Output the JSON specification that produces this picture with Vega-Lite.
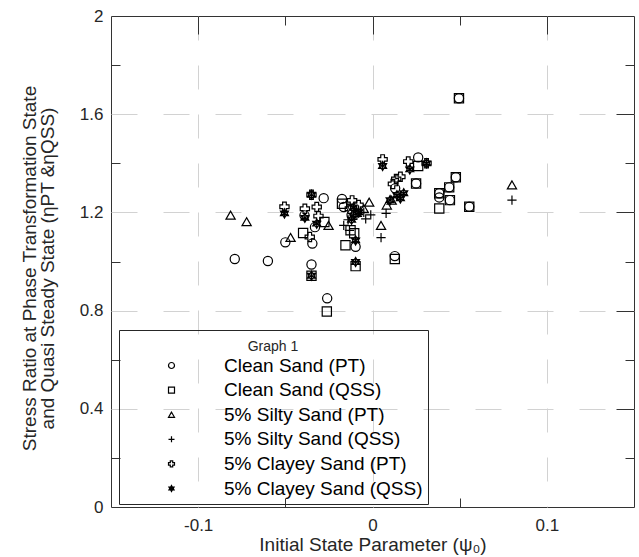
{
  "$schema": "https://vega.github.io/schema/vega-lite/v6.json",
  "width": 523,
  "height": 491,
  "autosize": {"type": "none"},
  "padding": {"left": 111, "top": 16, "right": 5, "bottom": 50},
  "background": "white",
  "config": {
    "font": "Liberation Sans",
    "view": {"stroke": "#333333", "strokeWidth": 1},
    "axis": {"labelFont": "Liberation Sans", "titleFont": "Liberation Sans", "labelColor": "#262626", "titleColor": "#262626", "titleFontWeight": "normal"}
  },
  "data": {
    "values": [
      {"psi": -0.079, "eta": 1.010, "s": "Clean Sand (PT)"},
      {"psi": -0.060, "eta": 1.002, "s": "Clean Sand (PT)"},
      {"psi": -0.050, "eta": 1.078, "s": "Clean Sand (PT)"},
      {"psi": -0.028, "eta": 1.258, "s": "Clean Sand (PT)"},
      {"psi": -0.039, "eta": 1.188, "s": "Clean Sand (PT)"},
      {"psi": -0.033, "eta": 1.140, "s": "Clean Sand (PT)"},
      {"psi": -0.0345, "eta": 1.073, "s": "Clean Sand (PT)"},
      {"psi": -0.035, "eta": 0.988, "s": "Clean Sand (PT)"},
      {"psi": -0.026, "eta": 0.850, "s": "Clean Sand (PT)"},
      {"psi": -0.0175, "eta": 1.255, "s": "Clean Sand (PT)"},
      {"psi": -0.0165, "eta": 1.222, "s": "Clean Sand (PT)"},
      {"psi": -0.012, "eta": 1.190, "s": "Clean Sand (PT)"},
      {"psi": -0.0097, "eta": 1.060, "s": "Clean Sand (PT)"},
      {"psi": 0.0128, "eta": 1.022, "s": "Clean Sand (PT)"},
      {"psi": 0.013, "eta": 1.298, "s": "Clean Sand (PT)"},
      {"psi": 0.0262, "eta": 1.424, "s": "Clean Sand (PT)"},
      {"psi": 0.0250, "eta": 1.318, "s": "Clean Sand (PT)"},
      {"psi": 0.0383, "eta": 1.278, "s": "Clean Sand (PT)"},
      {"psi": 0.0383, "eta": 1.261, "s": "Clean Sand (PT)"},
      {"psi": 0.0440, "eta": 1.302, "s": "Clean Sand (PT)"},
      {"psi": 0.0478, "eta": 1.343, "s": "Clean Sand (PT)"},
      {"psi": 0.0444, "eta": 1.250, "s": "Clean Sand (PT)"},
      {"psi": 0.0555, "eta": 1.223, "s": "Clean Sand (PT)"},
      {"psi": 0.0496, "eta": 1.665, "s": "Clean Sand (PT)"},

      {"psi": -0.0398, "eta": 1.116, "s": "Clean Sand (QSS)"},
      {"psi": -0.0276, "eta": 1.161, "s": "Clean Sand (QSS)"},
      {"psi": -0.035, "eta": 0.942, "s": "Clean Sand (QSS)"},
      {"psi": -0.0262, "eta": 0.796, "s": "Clean Sand (QSS)"},
      {"psi": -0.0175, "eta": 1.235, "s": "Clean Sand (QSS)"},
      {"psi": -0.0126, "eta": 1.127, "s": "Clean Sand (QSS)"},
      {"psi": -0.0105, "eta": 1.115, "s": "Clean Sand (QSS)"},
      {"psi": -0.0155, "eta": 1.066, "s": "Clean Sand (QSS)"},
      {"psi": -0.0097, "eta": 0.981, "s": "Clean Sand (QSS)"},
      {"psi": 0.0128, "eta": 1.010, "s": "Clean Sand (QSS)"},
      {"psi": 0.0250, "eta": 1.318, "s": "Clean Sand (QSS)"},
      {"psi": 0.0262, "eta": 1.389, "s": "Clean Sand (QSS)"},
      {"psi": 0.0383, "eta": 1.278, "s": "Clean Sand (QSS)"},
      {"psi": 0.0383, "eta": 1.216, "s": "Clean Sand (QSS)"},
      {"psi": 0.0440, "eta": 1.302, "s": "Clean Sand (QSS)"},
      {"psi": 0.0478, "eta": 1.343, "s": "Clean Sand (QSS)"},
      {"psi": 0.0444, "eta": 1.250, "s": "Clean Sand (QSS)"},
      {"psi": 0.0555, "eta": 1.223, "s": "Clean Sand (QSS)"},
      {"psi": 0.0496, "eta": 1.665, "s": "Clean Sand (QSS)"},

      {"psi": -0.0814, "eta": 1.189, "s": "5% Silty Sand (PT)"},
      {"psi": -0.0722, "eta": 1.162, "s": "5% Silty Sand (PT)"},
      {"psi": -0.047, "eta": 1.098, "s": "5% Silty Sand (PT)"},
      {"psi": -0.0252, "eta": 1.147, "s": "5% Silty Sand (PT)"},
      {"psi": -0.0019, "eta": 1.242, "s": "5% Silty Sand (PT)"},
      {"psi": 0.0049, "eta": 1.147, "s": "5% Silty Sand (PT)"},
      {"psi": 0.0082, "eta": 1.230, "s": "5% Silty Sand (PT)"},
      {"psi": 0.011, "eta": 1.250, "s": "5% Silty Sand (PT)"},
      {"psi": 0.080, "eta": 1.312, "s": "5% Silty Sand (PT)"},
      {"psi": -0.009, "eta": 1.200, "s": "5% Silty Sand (PT)"},
      {"psi": -0.005, "eta": 1.215, "s": "5% Silty Sand (PT)"},

      {"psi": -0.0165, "eta": 1.147, "s": "5% Silty Sand (QSS)"},
      {"psi": -0.0132, "eta": 1.127, "s": "5% Silty Sand (QSS)"},
      {"psi": -0.0039, "eta": 1.174, "s": "5% Silty Sand (QSS)"},
      {"psi": 0.0049, "eta": 1.097, "s": "5% Silty Sand (QSS)"},
      {"psi": 0.0078, "eta": 1.196, "s": "5% Silty Sand (QSS)"},
      {"psi": 0.080, "eta": 1.250, "s": "5% Silty Sand (QSS)"},
      {"psi": -0.011, "eta": 1.190, "s": "5% Silty Sand (QSS)"},
      {"psi": -0.008, "eta": 1.210, "s": "5% Silty Sand (QSS)"},
      {"psi": -0.005, "eta": 1.200, "s": "5% Silty Sand (QSS)"},
      {"psi": -0.001, "eta": 1.190, "s": "5% Silty Sand (QSS)"},
      {"psi": -0.014, "eta": 1.170, "s": "5% Silty Sand (QSS)"},

      {"psi": -0.0505, "eta": 1.223, "s": "5% Clayey Sand (PT)"},
      {"psi": -0.0388, "eta": 1.215, "s": "5% Clayey Sand (PT)"},
      {"psi": -0.032, "eta": 1.222, "s": "5% Clayey Sand (PT)"},
      {"psi": -0.035, "eta": 1.272, "s": "5% Clayey Sand (PT)"},
      {"psi": -0.036, "eta": 1.100, "s": "5% Clayey Sand (PT)"},
      {"psi": -0.031, "eta": 1.185, "s": "5% Clayey Sand (PT)"},
      {"psi": -0.0117, "eta": 1.249, "s": "5% Clayey Sand (PT)"},
      {"psi": -0.013, "eta": 1.215, "s": "5% Clayey Sand (PT)"},
      {"psi": -0.008, "eta": 1.230, "s": "5% Clayey Sand (PT)"},
      {"psi": -0.010, "eta": 1.190, "s": "5% Clayey Sand (PT)"},
      {"psi": 0.0058, "eta": 1.416, "s": "5% Clayey Sand (PT)"},
      {"psi": 0.0117, "eta": 1.316, "s": "5% Clayey Sand (PT)"},
      {"psi": 0.0136, "eta": 1.336, "s": "5% Clayey Sand (PT)"},
      {"psi": 0.016, "eta": 1.345, "s": "5% Clayey Sand (PT)"},
      {"psi": 0.0205, "eta": 1.407, "s": "5% Clayey Sand (PT)"},
      {"psi": 0.0310, "eta": 1.400, "s": "5% Clayey Sand (PT)"},

      {"psi": -0.0505, "eta": 1.196, "s": "5% Clayey Sand (QSS)"},
      {"psi": -0.035, "eta": 1.272, "s": "5% Clayey Sand (QSS)"},
      {"psi": -0.0388, "eta": 1.178, "s": "5% Clayey Sand (QSS)"},
      {"psi": -0.032, "eta": 1.154, "s": "5% Clayey Sand (QSS)"},
      {"psi": -0.035, "eta": 0.942, "s": "5% Clayey Sand (QSS)"},
      {"psi": -0.0097, "eta": 1.086, "s": "5% Clayey Sand (QSS)"},
      {"psi": -0.0097, "eta": 0.998, "s": "5% Clayey Sand (QSS)"},
      {"psi": 0.0058, "eta": 1.389, "s": "5% Clayey Sand (QSS)"},
      {"psi": -0.012, "eta": 1.170, "s": "5% Clayey Sand (QSS)"},
      {"psi": -0.008, "eta": 1.200, "s": "5% Clayey Sand (QSS)"},
      {"psi": -0.011, "eta": 1.220, "s": "5% Clayey Sand (QSS)"},
      {"psi": 0.0101, "eta": 1.250, "s": "5% Clayey Sand (QSS)"},
      {"psi": 0.014, "eta": 1.270, "s": "5% Clayey Sand (QSS)"},
      {"psi": 0.0179, "eta": 1.278, "s": "5% Clayey Sand (QSS)"},
      {"psi": 0.0214, "eta": 1.375, "s": "5% Clayey Sand (QSS)"},
      {"psi": 0.0310, "eta": 1.400, "s": "5% Clayey Sand (QSS)"},
      {"psi": 0.016, "eta": 1.257, "s": "5% Clayey Sand (QSS)"}
    ]
  },
  "resolve": {"axis": {"x": "independent", "y": "independent"}},
  "layer": [
    {
      "mark": {"type": "point", "filled": false, "size": 85, "strokeWidth": 1.2, "color": "black", "opacity": 1},
      "encoding": {
        "x": {
          "field": "psi", "type": "quantitative",
          "scale": {"domain": [-0.15, 0.15], "nice": false, "zero": false},
          "axis": {
            "orient": "bottom", "values": [-0.1, -0.05, 0, 0.05, 0.1],
            "grid": true, "gridColor": "#d2d2d2", "gridDash": [24, 25], "gridWidth": 1,
            "gridOpacity": {"condition": {"test": "abs(datum.value*10 - round(datum.value*10)) < 0.01", "value": 1}, "value": 0},
            "ticks": true, "tickSize": -9, "tickColor": "#333333", "tickWidth": 1,
            "tickOpacity": {"condition": {"test": "abs(datum.value*10 - round(datum.value*10)) < 0.01", "value": 0}, "value": 1},
            "domain": false,
            "labelFontSize": 17, "labelPadding": 19,
            "labelExpr": "abs(datum.value*10 - round(datum.value*10)) < 0.01 ? ((datum.value < 0 ? '-' : '') + format(abs(datum.value), '~g')) : ''",
            "title": "Initial State Parameter (ψ₀)", "titleFontSize": 19, "titlePadding": 2
          }
        },
        "y": {
          "field": "eta", "type": "quantitative",
          "scale": {"domain": [0, 2], "nice": false, "zero": false},
          "axis": {
            "orient": "left", "values": [0, 0.2, 0.4, 0.6, 0.8, 1.0, 1.2, 1.4, 1.6, 1.8, 2.0],
            "grid": true, "gridColor": "#d2d2d2", "gridDash": [26, 26], "gridWidth": 1,
            "gridOpacity": {"condition": {"test": "datum.value > 0.01 && datum.value < 1.99 && abs(datum.value*2.5 - round(datum.value*2.5)) < 0.01", "value": 1}, "value": 0},
            "ticks": true, "tickSize": -9, "tickColor": "#333333", "tickWidth": 1,
            "tickOpacity": {"condition": {"test": "abs(datum.value*2.5 - round(datum.value*2.5)) < 0.01", "value": 0}, "value": 1},
            "domain": false,
            "labelFontSize": 17, "labelPadding": 17,
            "labelExpr": "abs(datum.value*2.5 - round(datum.value*2.5)) < 0.01 ? format(datum.value, '~g') : ''",
            "title": ["Stress Ratio at Phase Transformation State", "and Quasi Steady State (ηPT &ηQSS)"],
            "titleFontSize": 19, "titleLineHeight": 18,
            "titleAngle": 270, "titleBaseline": "bottom", "titleAlign": "center",
            "titleX": -72, "titleY": 252
          }
        },
        "shape": {
          "field": "s", "type": "nominal",
          "scale": {
            "domain": ["Clean Sand (PT)", "Clean Sand (QSS)", "5% Silty Sand (PT)", "5% Silty Sand (QSS)", "5% Clayey Sand (PT)", "5% Clayey Sand (QSS)"],
            "range": ["circle", "square", "triangle-up", "M-1,0L1,0M0,-1L0,1", "cross", "M0,-1L0.289,-0.5L0.866,-0.5L0.577,0L0.866,0.5L0.289,0.5L0,1L-0.289,0.5L-0.866,0.5L-0.577,0L-0.866,-0.5L-0.289,-0.5ZM0,-1L0,1M-0.866,-0.5L0.866,0.5M-0.866,0.5L0.866,-0.5"]
          },
          "legend": {
            "title": ["", "Graph 1"], "orient": "none", "legendX": 8, "legendY": 314,
            "strokeColor": "#262626", "padding": 5,
            "titleFontSize": 14, "titleFontWeight": "normal", "titleAnchor": "middle", "titleColor": "#262626", "titlePadding": 2, "titleFont": "Liberation Sans", "titleLineHeight": 5,
            "labelFontSize": 19, "labelFont": "Liberation Sans", "labelColor": "#000000", "labelLimit": 400,
            "symbolSize": 36, "symbolStrokeColor": "black", "symbolStrokeWidth": 1.2,
            "symbolOffset": 38, "labelOffset": 43, "rowPadding": 4.6
          }
        }
      }
    },
    {
      "mark": {"type": "point", "opacity": 0},
      "encoding": {
        "x": {"field": "psi", "type": "quantitative",
          "axis": {"orient": "top", "values": [-0.1, -0.05, 0, 0.05, 0.1], "ticks": true,
            "tickSize": {"condition": {"test": "abs(datum.value*10 - round(datum.value*10)) < 0.01", "value": -18}, "value": -9},
            "tickColor": "#333333", "labels": false, "grid": false, "domain": false, "title": null}},
        "y": {"field": "eta", "type": "quantitative",
          "axis": {"orient": "right", "values": [0.2, 0.4, 0.6, 0.8, 1.0, 1.2, 1.4, 1.6, 1.8], "ticks": true,
            "tickSize": {"condition": {"test": "abs(datum.value*2.5 - round(datum.value*2.5)) < 0.01", "value": -18}, "value": -9},
            "tickColor": "#333333", "labels": false, "grid": false, "domain": false, "title": null}}
      }
    }
  ]
}
